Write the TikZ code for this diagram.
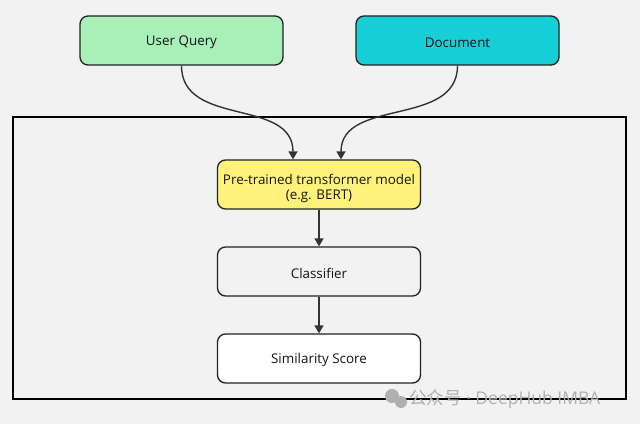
\documentclass[tikz,border=0pt]{standalone}
\usepackage{fontspec}
\setmainfont{Open Sans}
\newfontfamily\cjk{Noto Sans CJK SC}
\usetikzlibrary{arrows.meta}
\definecolor{bgc}{HTML}{F2F2F2}
\definecolor{qgreen}{HTML}{A8F0B8}
\definecolor{dcyan}{HTML}{17CFD6}
\definecolor{tyellow}{HTML}{FEF27C}
\definecolor{edge}{HTML}{222222}
\definecolor{wm}{HTML}{B0B0B0}
\newcommand{\dn}[2][-2pt]{\raisebox{#1}[\height][\depth]{#2}}
\tikzset{
  box/.style={draw=edge, line width=1.3pt, rounded corners=8pt, minimum width=203pt, minimum height=49pt, align=center, font=\fontsize{13.4}{16}\selectfont, text=black!92, inner sep=2pt},
  conn/.style={draw=black!80, line width=1.4pt, -{Triangle[length=8pt,width=9pt]}}
}
\begin{document}
\begin{tikzpicture}[x=1pt,y=1pt]
\fill[bgc] (0,0) rectangle (640,424);
\useasboundingbox (0,0) rectangle (640,424);
% outer frame
\draw[black, line width=1.3pt] (13,25) rectangle (626,307);
\node[box, fill=qgreen] (uq) at (181.5,383.5) {\dn{User Query}};
\node[box, fill=dcyan] (doc) at (457.5,383.5) {\dn{Document}};
\node[box, fill=tyellow] (ptm) at (319,239.5) {\dn[-4pt]{\begin{tabular}{@{}c@{}}Pre-trained transformer model\\[-1pt](e.g. BERT)\end{tabular}}};
\node[box, fill=bgc] (cls) at (319,152.5) {\dn{Classifier}};
\node[box, fill=white] (sim) at (319,65.5) {\dn{Similarity Score}};
\draw[conn] (uq.south) .. controls +(0,-62) and +(0,62) .. ([xshift=-26pt]ptm.north);
\draw[conn] (doc.south) .. controls +(0,-62) and +(0,62) .. ([xshift=22pt]ptm.north);
\draw[conn] (ptm.south) -- (cls.north);
\draw[conn] (cls.south) -- (sim.north);
% watermark
\fill[wm] (392,28) circle (7pt);
\fill[wm] (401,22) circle (6pt);
\node[text=wm, font=\fontsize{17.5}{20}\selectfont, anchor=west, inner sep=0pt] (wmt) at (409,25) {{\cjk 公众号} · DeepHub IMBA};
\end{tikzpicture}
\end{document}
